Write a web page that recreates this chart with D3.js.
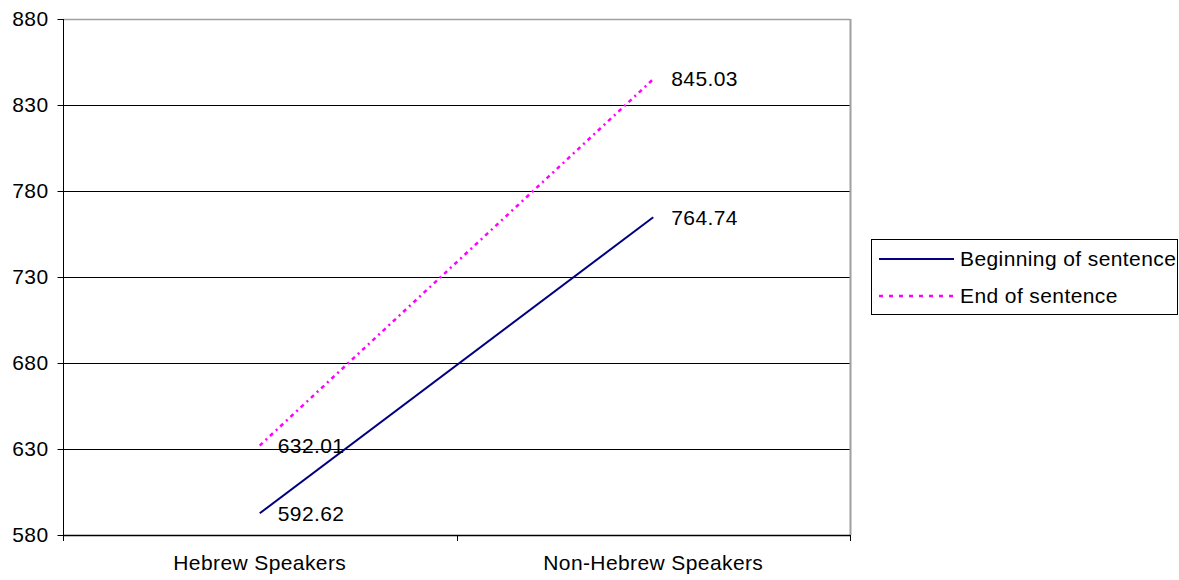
<!DOCTYPE html>
<html>
<head>
<meta charset="utf-8">
<script src="https://cdn.jsdelivr.net/npm/d3@7/dist/d3.min.js"></script>
<style>
  html, body { margin: 0; padding: 0; background: #fff; }
  svg { display: block; font-family: "Liberation Sans", Arial, sans-serif; }
  text { letter-spacing: 0.4px; }
</style>
</head>
<body>
<svg id="chart" width="1179" height="580"></svg>
<script>
const categories = ["Hebrew Speakers", "Non-Hebrew Speakers"];
const seriesNames = ["Beginning of sentence", "End of sentence"];
const beginning = [592.62, 764.74];
const endSent = [632.01, 845.03];
const yTicks = [580, 630, 680, 730, 780, 830, 880];

(function () {
const svg = d3.select("#chart");
const pL = 63, pR = 850, pT = 19, pB = 535;
const fs = 21;

const x = d3.scaleBand().domain(categories).range([pL, pR]);
const y = d3.scaleLinear().domain([580, 880]).range([pB, pT]);
const cx = c => x(c) + x.bandwidth() / 2;

// gridlines
svg.append("g")
  .selectAll("line")
  .data(yTicks.filter(t => t !== 880 && t !== 580))
  .join("line")
  .attr("x1", pL).attr("x2", pR)
  .attr("y1", d => Math.round(y(d)) + 0.5).attr("y2", d => Math.round(y(d)) + 0.5)
  .attr("stroke", "#000").attr("stroke-width", 1);

// plot border top/right grey
svg.append("line").attr("x1", pL).attr("x2", pR).attr("y1", pT + 0.5).attr("y2", pT + 0.5)
  .attr("stroke", "#a0a0a0").attr("stroke-width", 1.5);
svg.append("line").attr("x1", pR + 0.5).attr("x2", pR + 0.5).attr("y1", pT).attr("y2", pB)
  .attr("stroke", "#a0a0a0").attr("stroke-width", 2);

// y axis
const yAxis = d3.axisLeft(y).tickValues(yTicks).tickSize(6).tickPadding(9).tickFormat(d3.format("d"));
const gy = svg.append("g").attr("transform", `translate(${pL + 0.5},0)`).call(yAxis);
gy.select(".domain").attr("stroke", "#000").attr("d", `M0,${pT}V${pB}`);
gy.selectAll(".tick line").attr("stroke", "#000");
gy.selectAll(".tick text").attr("font-size", fs).attr("fill", "#000")
  .attr("font-family", "Liberation Sans, Arial, sans-serif");

// x axis
const xAxis = d3.axisBottom(x).tickSize(0).tickPadding(20);
const gx = svg.append("g").attr("transform", `translate(0,${pB + 0.5})`).call(xAxis);
gx.select(".domain").attr("stroke", "#000").attr("stroke-width", 1.5).attr("d", `M${pL},0H${pR}`);
gx.selectAll(".tick text").attr("font-size", fs).attr("fill", "#000")
  .attr("font-family", "Liberation Sans, Arial, sans-serif");
// x tick marks at band boundaries
const bounds = [x.range()[0], ...categories.map(c => x(c) + x.bandwidth())];
svg.append("g").selectAll("line").data(bounds).join("line")
  .attr("x1", d => Math.round(d) + 0.5).attr("x2", d => Math.round(d) + 0.5)
  .attr("y1", pB).attr("y2", pB + 6)
  .attr("stroke", "#000");

// lines
const line = d3.line().x((d, i) => cx(categories[i])).y(d => y(d));
const seriesData = [beginning, endSent];
const colors = ["#000080", "#ff00ff"];
const dashes = [null, "4,4,2,4"];
const widths = [2, 2.5];
seriesData.forEach((vals, s) => {
  svg.append("path").datum(vals).attr("d", line)
    .attr("fill", "none").attr("stroke", colors[s]).attr("stroke-width", widths[s])
    .attr("stroke-dasharray", dashes[s]);
  svg.append("g").selectAll("text").data(vals).join("text")
    .attr("x", (d, i) => cx(categories[i]) + 18)
    .attr("y", d => y(d))
    .attr("dy", "0.35em")
    .attr("font-size", fs).attr("fill", "#000")
    .text(d => d.toFixed(2));
});

// legend
const lg = svg.append("g");
lg.append("rect").attr("x", 871.5).attr("y", 239.5).attr("width", 306).attr("height", 75)
  .attr("fill", "#fff").attr("stroke", "#000").attr("stroke-width", 1);
const ly = [259, 296];
seriesNames.forEach((name, s) => {
  lg.append("line").attr("x1", 879).attr("x2", 954).attr("y1", ly[s]).attr("y2", ly[s])
    .attr("stroke", colors[s]).attr("stroke-width", widths[s]).attr("stroke-dasharray", s === 1 ? "4,6" : null);
  lg.append("text").attr("x", 960).attr("y", ly[s]).attr("dy", "0.35em")
    .attr("font-size", fs).attr("fill", "#000").text(name);
});
})();
</script>
</body>
</html>
